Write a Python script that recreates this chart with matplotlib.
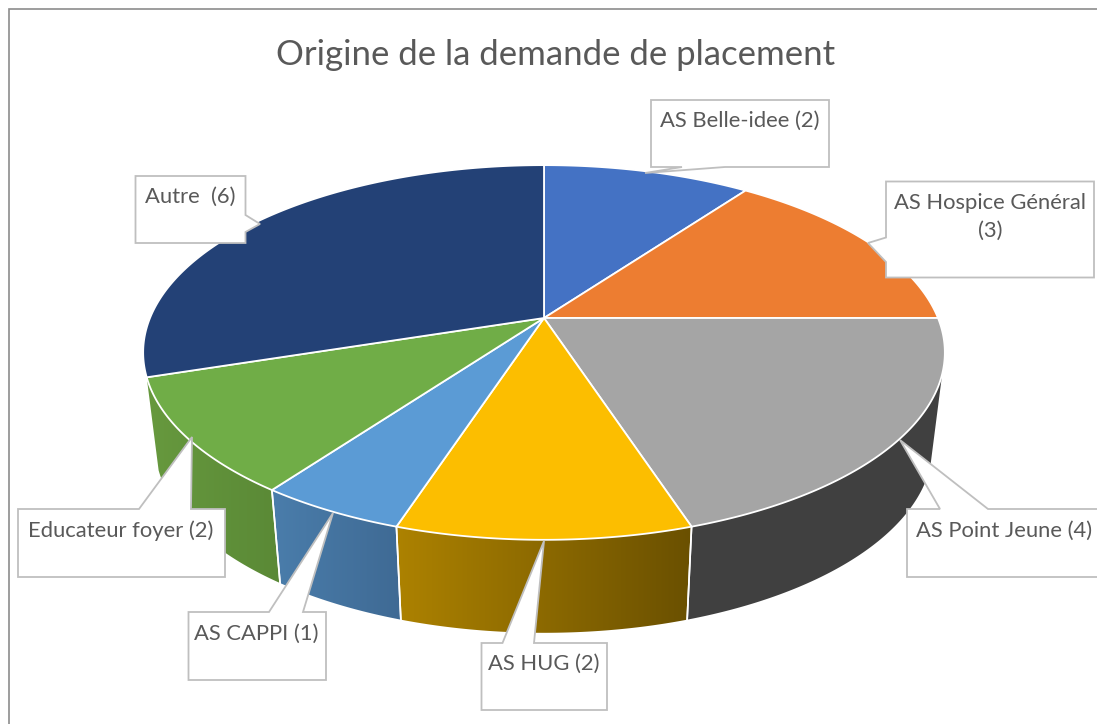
import numpy as np
import matplotlib
matplotlib.use("Agg")
import matplotlib.pyplot as plt
from matplotlib.patches import Polygon, Rectangle

labels = ["AS Belle-idee (2)", "AS Hospice Général\n(3)", "AS Point Jeune (4)", "AS HUG (2)",
          "AS CAPPI (1)", "Educateur foyer (2)", "Autre  (6)"]
values = [2, 3, 4, 2, 1, 2, 6]
top_colors = ["#4472c4", "#ed7d31", "#a5a5a5", "#fcbe00", "#5b9bd5", "#70ad47", "#234176"]
# gradient of the side wall, left to right
side_left = ["#3a62a8", "#c96a2a", "#404040", "#ad8200", "#4a7dab", "#67993e", "#1e3763"]
side_right = ["#3a62a8", "#c96a2a", "#404040", "#6a5000", "#3f6a94", "#5a8936", "#1e3763"]

# pie geometry in pixels
CX, CY = 544, 318
RX, RY, K = 394, 181, 0.184
DEPTH, BOTTOM_SCALE = 93, 0.97
# wall is visible between the two tangent lines of top and bottom rim
WALL_FROM, WALL_TO = 107, 252


def rim(deg, depth=0.0, scale=1.0):
    t = np.radians(deg)
    u = -np.cos(t)
    w = 1 - K * u
    return CX + scale * RX * np.sin(t) / w, CY + depth + RY * u / w


plt.rcParams["font.family"] = ["Lato", "DejaVu Sans"]
fig = plt.figure(figsize=(10.97, 7.24), dpi=100)
ax = fig.add_axes([0, 0, 1, 1])
ax.axis("off")

# chart frame, cut by the screenshot on the right and bottom
ax.add_patch(Rectangle((8.5, 8.5), 1200, 800, fc="white", ec="#8c8c8c", lw=1.2))

ax.text(556, 55, "Origine de la demande de placement", fontsize=25, color="#595959",
        ha="center", va="center")

edges = np.concatenate([[0], np.cumsum(values)]) * 360 / sum(values)

# side walls, back to front
order = sorted(range(len(values)), key=lambda i: -abs(180 - (edges[i] + edges[i + 1]) / 2))
for i in order:
    a0, a1 = max(edges[i], WALL_FROM), min(edges[i + 1], WALL_TO)
    if a1 <= a0:
        continue
    th = np.linspace(a0, a1, 200)
    x0, y0 = rim(th)
    x1, y1 = rim(th, DEPTH, BOTTOM_SCALE)
    wall = Polygon(np.column_stack([np.r_[x0, x1[::-1]], np.r_[y0, y1[::-1]]]), closed=True,
                   transform=ax.transData, fc="none", ec="none")
    ax.add_patch(wall)
    xmin, xmax = min(x0.min(), x1.min()), max(x0.max(), x1.max())
    c0 = np.array(matplotlib.colors.to_rgb(side_left[i]))
    c1 = np.array(matplotlib.colors.to_rgb(side_right[i]))
    grad = np.linspace(0, 1, 256)[None, :, None]
    im = ax.imshow(c0 + (c1 - c0) * grad, extent=(xmin, xmax, 724, 0), aspect="auto", zorder=2)
    im.set_clip_path(wall)
    for a in (a0, a1):
        if WALL_FROM < a < WALL_TO and a in edges:
            ax.plot([rim(a)[0], rim(a, DEPTH, BOTTOM_SCALE)[0]], [rim(a)[1], rim(a, DEPTH, BOTTOM_SCALE)[1]],
                    color="white", lw=1.2, zorder=3)

# top of the pie
for i in range(len(values)):
    th = np.linspace(edges[i], edges[i + 1], 200)
    x, y = rim(th)
    pts = np.column_stack([np.r_[CX, x], np.r_[CY, y]])
    ax.add_patch(Polygon(pts, closed=True, fc=top_colors[i], ec="white", lw=1.3, zorder=4))

# callouts: box (left, top, right, bottom), text centre, pointer vertices
callouts = [
    ((651, 100, 829, 167), (740, 121), [(725, 167), (645, 173), (682, 167)]),
    ((886, 181.5, 1094, 277.5), (990, 217), [(886, 262), (868, 243), (886, 237.5)]),
    ((907, 509, 1104, 577), (1004, 531), [(988, 509), (900, 440), (940, 509)]),
    ((481.5, 643, 607, 710), (544, 664), [(534, 643), (544, 541), (502.5, 643)]),
    ((188.5, 612, 326, 680), (256, 634), [(303, 612), (333, 513), (269, 612)]),
    ((18, 509, 225, 577), (121, 531), [(191, 509), (192, 437), (139, 509)]),
    ((135.5, 176, 245.5, 243), (190, 197), [(245.5, 215), (260, 224), (245.5, 232)]),
]
for (box, txt, ptr), label in zip(callouts, labels):
    l, t, r, b = box
    # pointer is spliced into the box edge it leaves from
    if ptr[0][1] == t:
        verts = [(l, t)] + ptr[::-1] + [(r, t), (r, b), (l, b)]
    elif ptr[0][1] == b:
        verts = [(l, t), (r, t), (r, b)] + ptr + [(l, b)]
    elif ptr[0][0] == l:
        verts = [(l, t), (r, t), (r, b), (l, b)] + ptr
    else:
        verts = [(l, t), (r, t)] + ptr + [(r, b), (l, b)]
    ax.add_patch(Polygon(verts, closed=True, fc="white", ec="#bfbfbf", lw=1.3, zorder=5))
    ax.text(txt[0], txt[1], label, fontsize=15.8, color="#595959", ha="center", va="center",
            linespacing=1.5, zorder=6)

ax.set_xlim(0, 1097)
ax.set_ylim(724, 0)
fig.savefig("out.png", dpi=100)
